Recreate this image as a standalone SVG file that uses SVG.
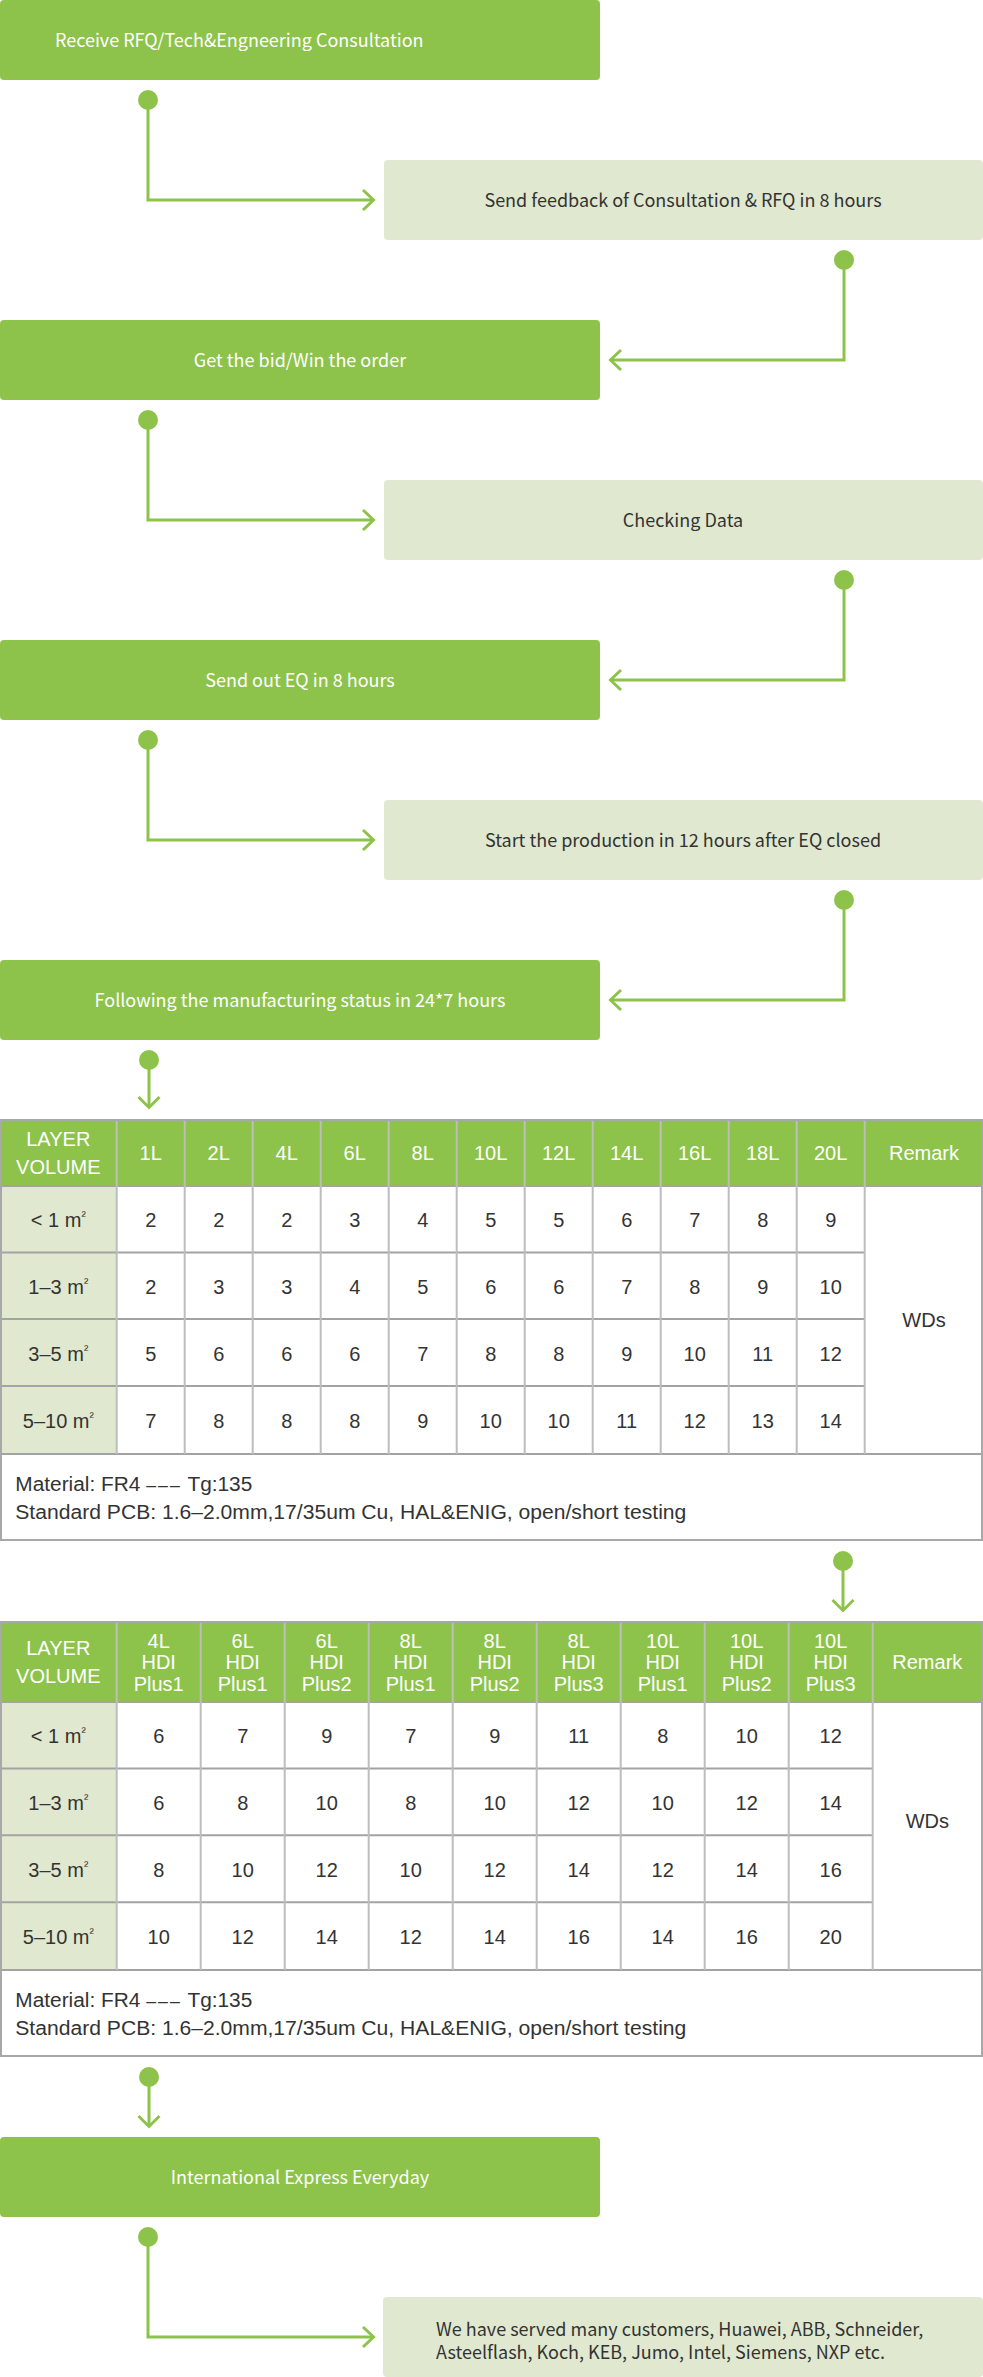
<svg xmlns="http://www.w3.org/2000/svg" width="983" height="2377" viewBox="0 0 983 2377">
<defs>
<style>
.dk{fill:#8DC34A}
.lt{fill:#E0E9D0}
.ft{font-family:"Noto Sans CJK SC","Noto Sans",sans-serif;font-size:18px}
.fw{fill:#ffffff}
.fd{fill:#333333}
.mid{text-anchor:middle}
.tt{font-family:"Liberation Sans",Arial,sans-serif;font-size:20px;text-anchor:middle;fill:#333333}
.th{font-family:"Liberation Sans",Arial,sans-serif;font-size:20px;text-anchor:middle;fill:#ffffff}
.nt{font-family:"Liberation Sans",Arial,sans-serif;font-size:20px;fill:#333333}
.sup{font-size:13px}
.dash{font-size:17px;letter-spacing:2px}
.conn{fill:none;stroke:#8DC34A;stroke-width:3}
.dot{fill:#8DC34A}
.vl{stroke:#bdbdbd;stroke-width:2}
.hl{stroke:#a3a3a3;stroke-width:2}
.bd{fill:none;stroke:#a8a8a8;stroke-width:2}
</style>
</defs>
<rect width="983" height="2377" fill="#ffffff"/>

<g id="connectors">
<circle class="dot" cx="148" cy="100" r="10"/>
<path class="conn" d="M148,100 V200 H373"/>
<path class="conn" d="M363,190 L373.5,200 L363,210"/>
<circle class="dot" cx="844" cy="260" r="10"/>
<path class="conn" d="M844,260 V360 H611"/>
<path class="conn" d="M621,350 L610.5,360 L621,370"/>
<circle class="dot" cx="148" cy="420" r="10"/>
<path class="conn" d="M148,420 V520 H373"/>
<path class="conn" d="M363,510 L373.5,520 L363,530"/>
<circle class="dot" cx="844" cy="580" r="10"/>
<path class="conn" d="M844,580 V680 H611"/>
<path class="conn" d="M621,670 L610.5,680 L621,690"/>
<circle class="dot" cx="148" cy="740" r="10"/>
<path class="conn" d="M148,740 V840 H373"/>
<path class="conn" d="M363,830 L373.5,840 L363,850"/>
<circle class="dot" cx="844" cy="900" r="10"/>
<path class="conn" d="M844,900 V1000 H611"/>
<path class="conn" d="M621,990 L610.5,1000 L621,1010"/>
<circle class="dot" cx="149" cy="1060" r="10"/>
<path class="conn" d="M149,1060 V1107"/>
<path class="conn" d="M138.5,1097 L149,1107.5 L159.5,1097"/>
<circle class="dot" cx="843" cy="1561" r="10"/>
<path class="conn" d="M843,1561 V1610"/>
<path class="conn" d="M832.5,1600 L843,1610.5 L853.5,1600"/>
<circle class="dot" cx="149" cy="2077" r="10"/>
<path class="conn" d="M149,2077 V2126"/>
<path class="conn" d="M138.5,2116 L149,2126.5 L159.5,2116"/>
<circle class="dot" cx="148" cy="2237" r="10"/>
<path class="conn" d="M148,2237 V2337 H373"/>
<path class="conn" d="M363,2327 L373.5,2337 L363,2347"/>
</g>

<g id="n1"><rect class="dk" x="0" y="0" width="600" height="80" rx="4"/>
<text class="ft fw" x="55" y="46.5">Receive RFQ/Tech&amp;Engneering Consultation</text></g>
<g id="n2"><rect class="lt" x="384" y="160" width="599" height="80" rx="4"/>
<text class="ft fd mid" x="683" y="206.5">Send feedback of Consultation &amp; RFQ in 8 hours</text></g>
<g id="n3"><rect class="dk" x="0" y="320" width="600" height="80" rx="4"/>
<text class="ft fw mid" x="300" y="366.5">Get the bid/Win the order</text></g>
<g id="n4"><rect class="lt" x="384" y="480" width="599" height="80" rx="4"/>
<text class="ft fd mid" x="683" y="526.5">Checking Data</text></g>
<g id="n5"><rect class="dk" x="0" y="640" width="600" height="80" rx="4"/>
<text class="ft fw mid" x="300" y="686.5">Send out EQ in 8 hours</text></g>
<g id="n6"><rect class="lt" x="384" y="800" width="599" height="80" rx="4"/>
<text class="ft fd mid" x="683" y="846.5">Start the production in 12 hours after EQ closed</text></g>
<g id="n7"><rect class="dk" x="0" y="960" width="600" height="80" rx="4"/>
<text class="ft fw mid" x="300" y="1006.5">Following the manufacturing status in 24*7 hours</text></g>

<g id="table1">
<rect class="dk" x="0" y="1120" width="983" height="66"/>
<rect class="lt" x="0" y="1186" width="116.7" height="268"/>
<g class="hl">
<line x1="0" y1="1186" x2="983" y2="1186"/>
<line x1="0" y1="1252.5" x2="864.7" y2="1252.5"/>
<line x1="0" y1="1319" x2="864.7" y2="1319"/>
<line x1="0" y1="1386" x2="864.7" y2="1386"/>
<line x1="0" y1="1454" x2="983" y2="1454"/>
</g>
<g class="vl">
<line x1="116.7" y1="1120" x2="116.7" y2="1454"/>
<line x1="184.7" y1="1120" x2="184.7" y2="1454"/>
<line x1="252.7" y1="1120" x2="252.7" y2="1454"/>
<line x1="320.7" y1="1120" x2="320.7" y2="1454"/>
<line x1="388.7" y1="1120" x2="388.7" y2="1454"/>
<line x1="456.7" y1="1120" x2="456.7" y2="1454"/>
<line x1="524.7" y1="1120" x2="524.7" y2="1454"/>
<line x1="592.7" y1="1120" x2="592.7" y2="1454"/>
<line x1="660.7" y1="1120" x2="660.7" y2="1454"/>
<line x1="728.7" y1="1120" x2="728.7" y2="1454"/>
<line x1="796.7" y1="1120" x2="796.7" y2="1454"/>
<line x1="864.7" y1="1120" x2="864.7" y2="1454"/>
</g>
<rect class="bd" x="1" y="1120" width="981" height="420"/>
<text class="th" x="58.3" y="1146">LAYER</text>
<text class="th" x="58.3" y="1174">VOLUME</text>
<text class="th" x="150.7" y="1160">1L</text>
<text class="th" x="218.7" y="1160">2L</text>
<text class="th" x="286.7" y="1160">4L</text>
<text class="th" x="354.7" y="1160">6L</text>
<text class="th" x="422.7" y="1160">8L</text>
<text class="th" x="490.7" y="1160">10L</text>
<text class="th" x="558.7" y="1160">12L</text>
<text class="th" x="626.7" y="1160">14L</text>
<text class="th" x="694.7" y="1160">16L</text>
<text class="th" x="762.7" y="1160">18L</text>
<text class="th" x="830.7" y="1160">20L</text>
<text class="th" x="924" y="1160">Remark</text>
<text class="tt" x="58.3" y="1227">&lt; 1 m<tspan class="sup" dy="-7">²</tspan></text>
<text class="tt" x="58.3" y="1294">1–3 m<tspan class="sup" dy="-7">²</tspan></text>
<text class="tt" x="58.3" y="1361">3–5 m<tspan class="sup" dy="-7">²</tspan></text>
<text class="tt" x="58.3" y="1428">5–10 m<tspan class="sup" dy="-7">²</tspan></text>
<text class="tt" x="150.7" y="1227">2</text><text class="tt" x="218.7" y="1227">2</text><text class="tt" x="286.7" y="1227">2</text><text class="tt" x="354.7" y="1227">3</text><text class="tt" x="422.7" y="1227">4</text><text class="tt" x="490.7" y="1227">5</text><text class="tt" x="558.7" y="1227">5</text><text class="tt" x="626.7" y="1227">6</text><text class="tt" x="694.7" y="1227">7</text><text class="tt" x="762.7" y="1227">8</text><text class="tt" x="830.7" y="1227">9</text>
<text class="tt" x="150.7" y="1294">2</text><text class="tt" x="218.7" y="1294">3</text><text class="tt" x="286.7" y="1294">3</text><text class="tt" x="354.7" y="1294">4</text><text class="tt" x="422.7" y="1294">5</text><text class="tt" x="490.7" y="1294">6</text><text class="tt" x="558.7" y="1294">6</text><text class="tt" x="626.7" y="1294">7</text><text class="tt" x="694.7" y="1294">8</text><text class="tt" x="762.7" y="1294">9</text><text class="tt" x="830.7" y="1294">10</text>
<text class="tt" x="150.7" y="1361">5</text><text class="tt" x="218.7" y="1361">6</text><text class="tt" x="286.7" y="1361">6</text><text class="tt" x="354.7" y="1361">6</text><text class="tt" x="422.7" y="1361">7</text><text class="tt" x="490.7" y="1361">8</text><text class="tt" x="558.7" y="1361">8</text><text class="tt" x="626.7" y="1361">9</text><text class="tt" x="694.7" y="1361">10</text><text class="tt" x="762.7" y="1361">11</text><text class="tt" x="830.7" y="1361">12</text>
<text class="tt" x="150.7" y="1428">7</text><text class="tt" x="218.7" y="1428">8</text><text class="tt" x="286.7" y="1428">8</text><text class="tt" x="354.7" y="1428">8</text><text class="tt" x="422.7" y="1428">9</text><text class="tt" x="490.7" y="1428">10</text><text class="tt" x="558.7" y="1428">10</text><text class="tt" x="626.7" y="1428">11</text><text class="tt" x="694.7" y="1428">12</text><text class="tt" x="762.7" y="1428">13</text><text class="tt" x="830.7" y="1428">14</text>
<text class="tt" x="924" y="1327">WDs</text>
<text class="nt" x="15.3" y="1491" textLength="237" lengthAdjust="spacingAndGlyphs">Material: FR4 <tspan class="dash">–––</tspan> Tg:135</text>
<text class="nt" x="15.3" y="1519" textLength="671" lengthAdjust="spacingAndGlyphs">Standard PCB: 1.6–2.0mm,17/35um Cu, HAL&amp;ENIG, open/short testing</text>
</g>

<g id="table2">
<rect class="dk" x="0" y="1622" width="983" height="80"/>
<rect class="lt" x="0" y="1702" width="116.7" height="268"/>
<g class="hl">
<line x1="0" y1="1702" x2="983" y2="1702"/>
<line x1="0" y1="1768.5" x2="872.7" y2="1768.5"/>
<line x1="0" y1="1835.3" x2="872.7" y2="1835.3"/>
<line x1="0" y1="1902.3" x2="872.7" y2="1902.3"/>
<line x1="0" y1="1970" x2="983" y2="1970"/>
</g>
<g class="vl">
<line x1="116.7" y1="1622" x2="116.7" y2="1970"/>
<line x1="200.7" y1="1622" x2="200.7" y2="1970"/>
<line x1="284.7" y1="1622" x2="284.7" y2="1970"/>
<line x1="368.7" y1="1622" x2="368.7" y2="1970"/>
<line x1="452.7" y1="1622" x2="452.7" y2="1970"/>
<line x1="536.7" y1="1622" x2="536.7" y2="1970"/>
<line x1="620.7" y1="1622" x2="620.7" y2="1970"/>
<line x1="704.7" y1="1622" x2="704.7" y2="1970"/>
<line x1="788.7" y1="1622" x2="788.7" y2="1970"/>
<line x1="872.7" y1="1622" x2="872.7" y2="1970"/>
</g>
<rect class="bd" x="1" y="1622" width="981" height="434"/>
<text class="th" x="58.3" y="1655.3">LAYER</text>
<text class="th" x="58.3" y="1683">VOLUME</text>
<text class="th" y="1647.7"><tspan x="158.7">4L</tspan><tspan x="242.7">6L</tspan><tspan x="326.7">6L</tspan><tspan x="410.7">8L</tspan><tspan x="494.7">8L</tspan><tspan x="578.7">8L</tspan><tspan x="662.7">10L</tspan><tspan x="746.7">10L</tspan><tspan x="830.7">10L</tspan></text>
<text class="th" y="1669.3"><tspan x="158.7">HDI</tspan><tspan x="242.7">HDI</tspan><tspan x="326.7">HDI</tspan><tspan x="410.7">HDI</tspan><tspan x="494.7">HDI</tspan><tspan x="578.7">HDI</tspan><tspan x="662.7">HDI</tspan><tspan x="746.7">HDI</tspan><tspan x="830.7">HDI</tspan></text>
<text class="th" y="1691"><tspan x="158.7">Plus1</tspan><tspan x="242.7">Plus1</tspan><tspan x="326.7">Plus2</tspan><tspan x="410.7">Plus1</tspan><tspan x="494.7">Plus2</tspan><tspan x="578.7">Plus3</tspan><tspan x="662.7">Plus1</tspan><tspan x="746.7">Plus2</tspan><tspan x="830.7">Plus3</tspan></text>
<text class="th" x="927.3" y="1669">Remark</text>
<text class="tt" x="58.3" y="1743">&lt; 1 m<tspan class="sup" dy="-7">²</tspan></text>
<text class="tt" x="58.3" y="1810">1–3 m<tspan class="sup" dy="-7">²</tspan></text>
<text class="tt" x="58.3" y="1877">3–5 m<tspan class="sup" dy="-7">²</tspan></text>
<text class="tt" x="58.3" y="1944">5–10 m<tspan class="sup" dy="-7">²</tspan></text>
<text class="tt" y="1743"><tspan x="158.7">6</tspan><tspan x="242.7">7</tspan><tspan x="326.7">9</tspan><tspan x="410.7">7</tspan><tspan x="494.7">9</tspan><tspan x="578.7">11</tspan><tspan x="662.7">8</tspan><tspan x="746.7">10</tspan><tspan x="830.7">12</tspan></text>
<text class="tt" y="1810"><tspan x="158.7">6</tspan><tspan x="242.7">8</tspan><tspan x="326.7">10</tspan><tspan x="410.7">8</tspan><tspan x="494.7">10</tspan><tspan x="578.7">12</tspan><tspan x="662.7">10</tspan><tspan x="746.7">12</tspan><tspan x="830.7">14</tspan></text>
<text class="tt" y="1877"><tspan x="158.7">8</tspan><tspan x="242.7">10</tspan><tspan x="326.7">12</tspan><tspan x="410.7">10</tspan><tspan x="494.7">12</tspan><tspan x="578.7">14</tspan><tspan x="662.7">12</tspan><tspan x="746.7">14</tspan><tspan x="830.7">16</tspan></text>
<text class="tt" y="1944"><tspan x="158.7">10</tspan><tspan x="242.7">12</tspan><tspan x="326.7">14</tspan><tspan x="410.7">12</tspan><tspan x="494.7">14</tspan><tspan x="578.7">16</tspan><tspan x="662.7">14</tspan><tspan x="746.7">16</tspan><tspan x="830.7">20</tspan></text>
<text class="tt" x="927.3" y="1828">WDs</text>
<text class="nt" x="15.3" y="2007" textLength="237" lengthAdjust="spacingAndGlyphs">Material: FR4 <tspan class="dash">–––</tspan> Tg:135</text>
<text class="nt" x="15.3" y="2035" textLength="671" lengthAdjust="spacingAndGlyphs">Standard PCB: 1.6–2.0mm,17/35um Cu, HAL&amp;ENIG, open/short testing</text>
</g>

<g id="n8"><rect class="dk" x="0" y="2137" width="600" height="80" rx="4"/>
<text class="ft fw mid" x="300" y="2183.5">International Express Everyday</text></g>
<g id="n9"><rect class="lt" x="383" y="2297" width="600" height="80" rx="4"/>
<text class="ft fd" x="436" y="2336">We have served many customers, Huawei, ABB, Schneider,</text>
<text class="ft fd" x="436" y="2359">Asteelflash, Koch, KEB, Jumo, Intel, Siemens, NXP etc.</text></g>
</svg>
